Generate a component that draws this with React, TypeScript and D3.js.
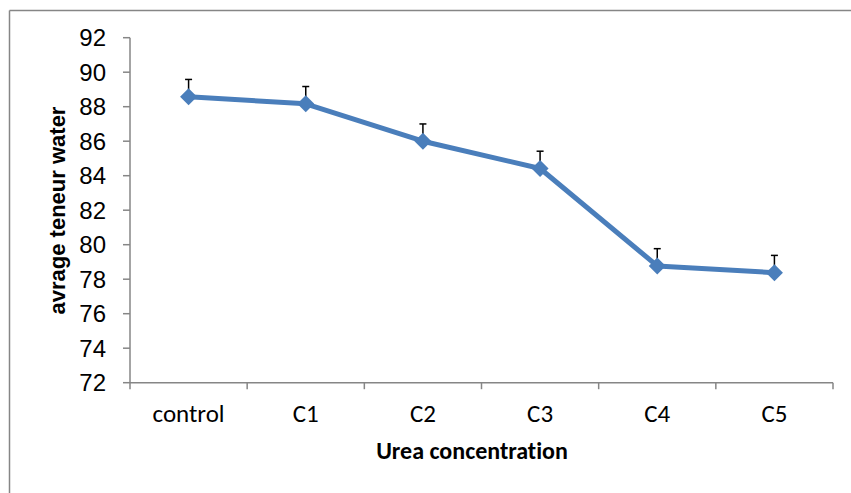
import React from 'react';
import * as d3 from 'd3';

const categories = ['control', 'C1', 'C2', 'C3', 'C4', 'C5'];
const means = [88.58, 88.17, 86.0, 84.42, 78.77, 78.38];
const errors = [1.0, 1.0, 1.0, 1.0, 1.0, 1.0];
const yTicks = [72, 74, 76, 78, 80, 82, 84, 86, 88, 90, 92];

const App = () => {
  const width = 851;
  const height = 493;
  const left = 130;
  const right = 833;
  const top = 37.7;
  const bottom = 382.7;

  const xScale = d3.scaleBand<string>().domain(categories).range([left, right]);
  const yScale = d3.scaleLinear().domain([72, 92]).range([bottom, top]);

  const cx = (c: string) => (xScale(c) as number) + xScale.bandwidth() / 2;

  const line = d3
    .line<number>()
    .x((_, i) => cx(categories[i]))
    .y((d) => yScale(d));

  const axisColor = '#868686';
  const blue = '#4a7ebb';
  const m = 8.5;

  const bandEdges = categories.map((c) => xScale(c) as number).concat([right]);

  return (
    <svg width={width} height={height} style={{ position: 'absolute', left: 0, top: 0 }}>
      <rect x={0} y={0} width={width} height={height} fill="#fff" />
      <line x1={9.5} y1={10.5} x2={851} y2={10.5} stroke={axisColor} strokeWidth={1.5} />
      <line x1={9.5} y1={10.5} x2={9.5} y2={493} stroke={axisColor} strokeWidth={1.5} />

      {/* y axis */}
      <line x1={left} y1={top} x2={left} y2={bottom} stroke={axisColor} strokeWidth={1.5} />
      {yTicks.map((t) => (
        <g key={t}>
          <line x1={left - 7} y1={yScale(t)} x2={left} y2={yScale(t)} stroke={axisColor} strokeWidth={1.5} />
          <text
            x={106}
            y={yScale(t)}
            dy="0.35em"
            textAnchor="end"
            fontFamily="'Liberation Sans', Arial, sans-serif"
            fontSize={24}
            fill="#000"
          >
            {t}
          </text>
        </g>
      ))}

      {/* x axis */}
      <line x1={left} y1={bottom} x2={right} y2={bottom} stroke={axisColor} strokeWidth={1.5} />
      {bandEdges.map((x, i) => (
        <line key={i} x1={x} y1={bottom} x2={x} y2={bottom + 6.5} stroke={axisColor} strokeWidth={1.5} />
      ))}
      {categories.map((c) => (
        <text
          key={c}
          x={cx(c)}
          y={422}
          textAnchor="middle"
          fontFamily="Carlito, Calibri, Lato, sans-serif"
          fontSize={25}
          fill="#000"
        >
          {c}
        </text>
      ))}

      <text
        x={472}
        y={459}
        textAnchor="middle"
        fontFamily="Carlito, Calibri, Lato, sans-serif"
        fontWeight="bold"
        fontSize={24}
        fill="#000"
        style={{ fontVariantLigatures: 'none' }}
      >
        Urea concentration
      </text>
      <text
        transform={`translate(65, 210.5) rotate(-90)`}
        textAnchor="middle"
        fontFamily="'Liberation Sans', Arial, sans-serif"
        fontWeight="bold"
        fontSize={22}
        fill="#000"
      >
        avrage teneur water
      </text>

      {/* error bars */}
      {means.map((v, i) => {
        const x = cx(categories[i]);
        const yTop = yScale(v + errors[i]);
        return (
          <g key={i}>
            <line x1={x} y1={yScale(v)} x2={x} y2={yTop} stroke="#000" strokeWidth={1.5} />
            <line x1={x - 3.5} y1={yTop} x2={x + 3.5} y2={yTop} stroke="#000" strokeWidth={1.5} />
          </g>
        );
      })}

      <path d={line(means) || ''} fill="none" stroke={blue} strokeWidth={5} strokeLinejoin="round" />

      {means.map((v, i) => {
        const x = cx(categories[i]);
        const y = yScale(v);
        return (
          <path
            key={i}
            d={`M${x},${y - m}L${x + m},${y}L${x},${y + m}L${x - m},${y}Z`}
            fill={blue}
          />
        );
      })}
    </svg>
  );
};

export default App;
